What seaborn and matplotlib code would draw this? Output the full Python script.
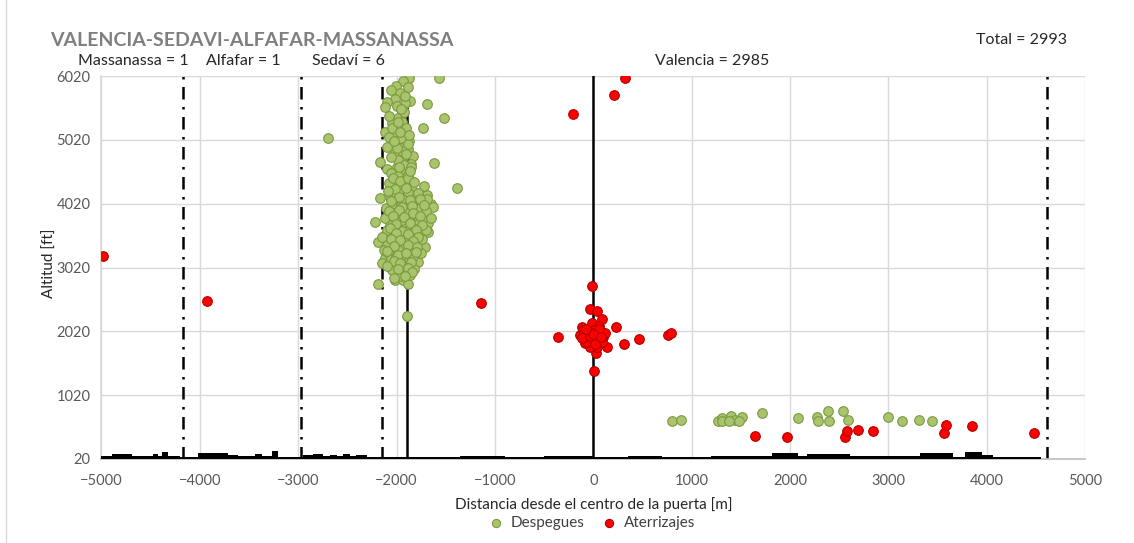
import numpy as np
import pandas as pd
import matplotlib

matplotlib.use("Agg")
import matplotlib.pyplot as plt
import seaborn as sns
from matplotlib.lines import Line2D

# --- Despegues (takeoffs): distance [m], altitude [ft] ---
desp_x = [
    -1870, -1572, -1931, -2006, -1965, -2013, -2100, -2114, -1863, -1914,
    -1687, -1518, -1734, -1945, -1982, -2046, -1948, -2121, -2016, -1907,
    -2080, -1877, -1998, -2094, -1958, -1881, -1836, -2026, -1931, -2168,
    -1622, -2100, -1998, -1897, -1856, -1948, -2033, -1863, -1982, -1914,
    -1382, -2049, -1846, -1744, -1687, -2067, -2168, -1965, -1795, -1653,
    -1626, -2016, -1897, -1813, -1744, -2049, -1948, -2219, -1711, -1846,
    -2033, -1677, -1795, -1914, -2067, -1863, -1998, -1677, -1762, -2117,
    -1948, -2049, -1846, -2185, -1711, -1965, -2100, -1762, -1897, -2049,
    -1846, -1982, -2117, -1914, -2033, -1813, -2151, -2084, -1965, -1897,
    -1948, -2016, -1931, -1881, -2185, -1897, -2697,
    -2000, -1900, -1850, -2050, -1950, -1880, -1780, -1730, -2000, -1950,
    -1870, -1820, -2100, -2030, -1900, -1800, -1740, -2000, -1920, -1850,
    -2080, -1960, -1880, -1780, -2000, -1930, -1860, -2050, -1990, -1920,
    -2060, -1890, -1960, -2010, -1800, -1760, -1700, -2120, -2000, -1900,
    -1830, -1700, -2100, -1950, -1830, -2130, -2060, -1910, -1820, -1960,
    -1900, -1950, -2050, -1920, -2000, -1880, -1940, -2060, -1850, -1990,
    -1940, -1880, -2080, -1720, -1690, -1650, -1780, -2150, -2110, -1870,
    -1990, -1750, -1920, -1860, -1970, -2040, -1810, -1890, -2010, -1940,
    -2040, -1960, -1880, -1820, -2020, -1900, -1780, -2090, -1980, -1860,
    -1760, -2060, -1940, -1840, -1720, -2080, -1980, -1830, -2040, -1920,
    -1760, -2010, -1860, -1740, -2070, -1940, -1800, -2010, -1880, -1780,
    -2060, -1960, -1830, -2030, -1880, -1790, -2100, -1990, -1900, -1800,
    -2030, -1850, -1960, -2100, -1880, -1990, -1840, -2030, -1910, -1970,
    -1860, -2000, -1900, -2030, -1960, -1870, -1990, -2080, -1950, -1910,
    -2060, -1880,
    801, 892, 1268, 1309, 1400, 1441, 1512, 1482, 1309, 1380,
    1716, 2082, 2275, 2285, 2387, 2397, 2540, 2590, 2997, 3139,
    3312, 3444,
]
desp_y = [
    5990, 5990, 5948, 5865, 5750, 5660, 5620, 5530, 5635, 5595,
    5583, 5368, 5212, 5437, 5368, 5290, 5305, 5149, 5149, 5113,
    5061, 5008, 4967, 4905, 4889, 4873, 4773, 4795, 4757, 4679,
    4654, 4560, 4600, 4575, 4642, 4470, 4418, 4392, 4314, 4262,
    4271, 4209, 4235, 4173, 4157, 4121, 4105, 4105, 4141, 4016,
    3974, 4052, 4027, 3974, 3974, 3948, 3895, 3729, 3843, 3843,
    3817, 3713, 3738, 3713, 3687, 3635, 3635, 3582, 3557, 3530,
    3530, 3452, 3452, 3425, 3347, 3373, 3347, 3243, 3295, 3268,
    3217, 3190, 3165, 3138, 3112, 3138, 3087, 3060, 3033, 3008,
    2930, 2825, 2825, 2762, 2762, 2261, 5050,
    4300, 4350, 4150, 4000, 4000, 3900, 3880, 3800, 3750, 3650,
    3780, 3660, 3600, 3520, 3480, 3420, 3460, 3400, 3350, 3320,
    3230, 3250, 3150, 3100, 3050, 2950, 2900, 2980, 4700, 4620,
    4500, 4480, 4550, 4180, 4050, 3950, 3900, 3800, 3850, 3700,
    3560, 3600, 3380, 3200, 3200, 3300, 3150, 3050, 3000, 2880,
    5200, 5050, 5200, 5450, 5550, 4950, 4850, 4750, 4600, 4450,
    4250, 4200, 4350, 4300, 4100, 3800, 3700, 3500, 3950, 3600,
    3300, 3250, 4080, 4020, 3560, 3880, 3620, 3420, 3180, 3760,
    4420, 4380, 4420, 4360, 4250, 4270, 4180, 4220, 4130, 4080,
    4090, 4060, 3970, 3990, 4000, 3900, 3920, 3880, 3820, 3810,
    3830, 3700, 3720, 3680, 3640, 3590, 3610, 3560, 3540, 3500,
    3470, 3450, 3440, 3360, 3380, 3340, 3280, 3210, 3240, 3260,
    3120, 3110, 3090, 3040, 3020, 2990, 2950, 2860, 2880, 4600,
    4530, 4900, 4800, 5000, 5150, 5100, 5300, 5400, 5500, 5700,
    5800, 5850,
    615, 631, 615, 662, 694, 631, 678, 615, 615, 615,
    741, 662, 678, 615, 772, 615, 772, 631, 678, 615,
    631, 615,
]

# --- Aterrizajes (landings) ---
ater_x = [
    -4985, -3927, -1141, -206, 211, 323,
    -16, -33, 35, 86, 228, -355, 316, 465, 757, 787,
    137, 28, 8, -118, -135, -16, 58, -84, 102, -50,
    19, 1, 69, -67, 35, -33, 86, -101, -16, -90,
    -40, 50, 10, -20, 40, -60, 90, -110, 120, 60,
    -30, 0, 20, -75, 75,
    1645, 1970, 2560, 2580, 2692, 2845, 3567, 3588, 3852, 4482,
]
ater_y = [
    3200, 2490, 2460, 5430, 5730, 5990,
    2736, 2366, 2344, 2219, 2083, 1936, 1827, 1896, 1963, 1994,
    1780, 1676, 1404, 2083, 1963, 2146, 2104, 1833, 1936, 2015,
    1947, 1858, 1885, 1911, 1780, 1780, 2000, 2041, 1920, 1990,
    1880, 1960, 2040, 2000, 1900, 1850, 1850, 1920, 2000, 2060,
    1950, 1980, 1820, 2060, 1930,
    380, 365, 365, 458, 474, 458, 427, 552, 537, 427,
]

# ground profile (step segments): start of each segment [m], height above 20 ft
profile_x = [
    -5000, -4893, -4812, -4690, -4476, -4425, -4385, -4324, -4200, -4019,
    -3898, -3715, -3610, -3440, -3370, -3268, -3205, -2950, -2850, -2748,
    -2680, -2610, -2544, -2472, -2410, -2300, -2210, -2140, -1350, -900,
    -500, 0, 350, 700, 1000, 1200, 1500, 1815, 2085, 2170,
    2610, 2900, 3320, 3660, 3780, 3955, 4065, 4550,
]
profile_h = [
    45, 75, 85, 40, 75, 40, 110, 40, 30, 95,
    100, 55, 40, 75, 40, 125, 30, 70, 85, 40,
    60, 40, 75, 45, 70, 30, 35, 30, 45, 30,
    40, 35, 45, 35, 30, 45, 50, 95, 45, 85,
    45, 40, 90, 35, 115, 55, 35,
]

# municipality limits and gate lines
limits_dashdot = [-4168, -2975, -2151, 4610]
limits_solid = [-1890, 0]

counts = {"Massanassa": 1, "Alfafar": 1, "Sedaví": 6, "Valencia": 2985}
total = 2993

sns.set_theme(style="white")
plt.rcParams["font.family"] = ["Lato", "DejaVu Sans"]

fig = plt.figure(figsize=(11.34, 5.43), dpi=100)
ax = fig.add_axes([0.0895, 0.1547, 0.8673, 0.7053])

# ground
profile_top = [20 + h for h in profile_h] + [20 + profile_h[-1]]
ax.fill_between(profile_x, 20, profile_top, step="post", color="black", lw=0, zorder=2.6)

for xv in limits_dashdot:
    ax.axvline(xv, color="black", lw=1.8, ls=(0, (5, 3, 1, 3)), zorder=1.5)
for xv in limits_solid:
    ax.axvline(xv, color="black", lw=1.8, zorder=1.5)

df_d = pd.DataFrame({"x": desp_x, "y": desp_y})
df_a = pd.DataFrame({"x": ater_x, "y": ater_y})
sns.scatterplot(data=df_d, x="x", y="y", ax=ax, s=48, color="#A9C46C",
                edgecolor="#7B9A3E", linewidth=0.8, label="Despegues", zorder=3)
sns.scatterplot(data=df_a, x="x", y="y", ax=ax, s=48, color="#FF0000",
                edgecolor="#B00000", linewidth=0.8, label="Aterrizajes", zorder=4)

ax.set_xlim(-5000, 5000)
ax.set_ylim(20, 6020)
ax.set_xticks(np.arange(-5000, 5001, 1000))
ax.set_yticks(np.arange(20, 6021, 1000))
ax.grid(True, color="#D9D9D9", lw=1)
ax.set_axisbelow(True)
for side in ["top", "right"]:
    ax.spines[side].set_visible(False)
ax.spines["left"].set_color("#D9D9D9")
ax.spines["bottom"].set_color("#BFBFBF")
ax.tick_params(axis="x", length=5, color="#BFBFBF", labelsize=10.5, labelcolor="#595959", pad=6)
ax.tick_params(axis="y", length=0, labelsize=10.5, labelcolor="#595959", pad=8)

ax.set_xlabel("Distancia desde el centro de la puerta [m]", fontsize=11, color="#262626", va="center")
ax.xaxis.set_label_coords(0.5, -0.12)
ax.set_ylabel("Altitud [ft]", fontsize=11, color="#262626", va="center")
ax.yaxis.set_label_coords(-0.053, 0.512)

ax.legend(loc="center", bbox_to_anchor=(588 / 1134, 1 - 523 / 543), bbox_transform=fig.transFigure,
          ncol=2, frameon=False, fontsize=11, handletextpad=0.0, columnspacing=0.6, markerscale=0.85,
          labelcolor="#404040")

# outer chart frame (left edge visible)
fig.add_artist(Line2D([6 / 1134, 6 / 1134], [0, 1], transform=fig.transFigure, color="#D9D9D9", lw=1))

fig.text(50 / 1134, 1 - 40 / 543, "VALENCIA-SEDAVI-ALFAFAR-MASSANASSA", fontsize=14,
         fontweight="bold", color="#7F7F7F", ha="left", va="center")
fig.text(1022 / 1134, 1 - 40 / 543, f"Total = {total}", fontsize=11.5, ha="center", va="center", color="#262626")
label_pos = {"Massanassa": 133, "Alfafar": 243, "Sedaví": 348, "Valencia": 712}
for name, n in counts.items():
    fig.text(label_pos[name] / 1134, 1 - 61 / 543, f"{name} = {n}", fontsize=11.5,
             ha="center", va="center", color="#262626")

fig.savefig("out.png", dpi=100)
